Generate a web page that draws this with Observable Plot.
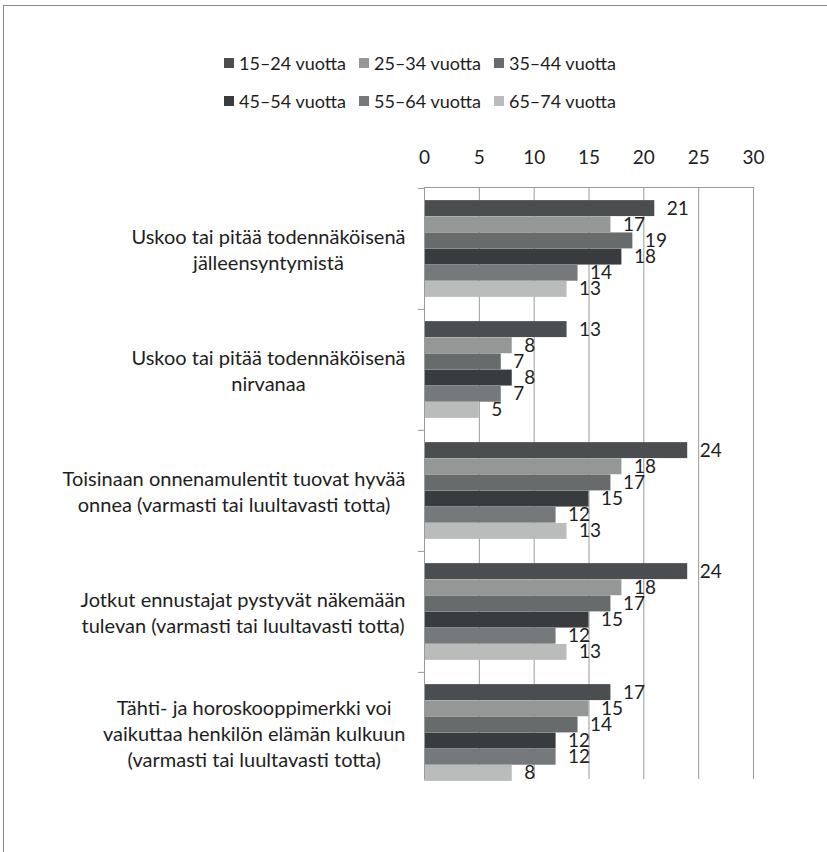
<!DOCTYPE html>
<html><head><meta charset="utf-8">
<script src="https://cdn.jsdelivr.net/npm/d3@7"></script>
<script src="https://cdn.jsdelivr.net/npm/@observablehq/plot@0.6"></script>
<style>
body{margin:0;background:#fff;overflow:hidden;width:827px;height:852px;position:relative;font-family:Lato,"Open Sans",sans-serif;color:#1e1e1e;}
#frame{position:absolute;left:3px;top:5px;width:900px;height:900px;border-left:1px solid #8a8a8a;border-top:1px solid #8a8a8a;}
#legend{position:absolute;left:0;top:44px;width:840px;font-size:18px;}
.row{display:flex;justify-content:center;height:38px;align-items:center;}
.item{display:flex;align-items:center;margin:0 6.5px;}
.sw{width:10px;height:10px;margin-right:5px;}
#chart{position:absolute;left:0;top:120px;}
</style></head>
<body>
<div id="frame"></div>
<div id="legend"></div>
<div id="chart"></div>
<script>
const categories = [
  "Uskoo tai pitää todennäköisenä\njälleensyntymistä",
  "Uskoo tai pitää todennäköisenä\nnirvanaa",
  "Toisinaan onnenamulentit tuovat hyvää\nonnea (varmasti tai luultavasti totta)",
  "Jotkut ennustajat pystyvät näkemään\ntulevan (varmasti tai luultavasti totta)",
  "Tähti- ja horoskooppimerkki voi\nvaikuttaa henkilön elämän kulkuun\n(varmasti tai luultavasti totta)"
];
const ageGroups = ["15–24 vuotta","25–34 vuotta","35–44 vuotta","45–54 vuotta","55–64 vuotta","65–74 vuotta"];
const v15_24 = [21,13,24,24,17];
const v25_34 = [17,8,18,18,15];
const v35_44 = [19,7,17,17,14];
const v45_54 = [18,8,15,15,12];
const v55_64 = [14,7,12,12,12];
const v65_74 = [13,5,13,13,8];
const xTicks = [0,5,10,15,20,25,30];
const colors = ["#4b4e51","#959796","#686b6b","#383c3f","#76797b","#b9bcbb"];

const series = [v15_24,v25_34,v35_44,v45_54,v55_64,v65_74];

// legend
const legend = document.getElementById("legend");
[[0,1,2],[3,4,5]].forEach(idx => {
  const row = document.createElement("div"); row.className = "row";
  idx.forEach(i => {
    const it = document.createElement("div"); it.className = "item";
    const sw = document.createElement("div"); sw.className = "sw"; sw.style.background = colors[i];
    const tx = document.createElement("span"); tx.textContent = ageGroups[i];
    it.append(sw, tx); row.append(it);
  });
  legend.append(row);
});

const top0 = 67;
const bw = 121.2;
const h = bw / 7.5;
const pad = (bw - 6 * h) / 2;

const marks = [
  Plot.gridX({ticks: xTicks, stroke: "#9a9a9a", strokeOpacity: 1}),
];
series.forEach((vals, i) => {
  const rows = categories.map((c, j) => ({category: c, value: vals[j]}));
  marks.push(Plot.barX(rows, {
    x: "value", y: "category", fill: colors[i],
    insetTop: pad + i * h, insetBottom: bw - pad - (i + 1) * h
  }));
  marks.push(Plot.text(rows, {
    x: "value", y: "category", text: d => String(d.value),
    dx: 12, dy: pad + (i + 0.5) * h - bw / 2, textAnchor: "start",
    fill: "#1e1e1e", fontSize: 19
  }));
});
marks.push(
  Plot.ruleX([0], {stroke: "#9a9a9a"}),
  Plot.frame({anchor: "top", stroke: "#9a9a9a"}),
  Plot.axisY({tickSize: 6, text: null, dy: -bw / 2, stroke: "#9a9a9a", label: null}),
  Plot.axisY({tickSize: 0, tickPadding: 19, fontSize: 20, lineHeight: 1.3, fill: "#1e1e1e", label: null}),
  Plot.axisX({anchor: "top", ticks: xTicks, tickSize: 0, tickPadding: 24, fontSize: 19, fill: "#1e1e1e", label: null})
);

const svg = Plot.plot({
  width: 827,
  height: 679,
  marginTop: top0,
  marginLeft: 424,
  marginRight: 74,
  marginBottom: 20,
  style: {fontFamily: "Lato, 'Open Sans', sans-serif", fontSize: "18px", color: "#1e1e1e", background: "transparent"},
  x: {domain: [0, 30], axis: null},
  y: {domain: categories, range: [top0, top0 + 5 * bw], padding: 0, axis: null},
  marks
});
document.getElementById("chart").append(svg);
svg.querySelectorAll('g[aria-label="y-axis tick label"] text').forEach(t => {
  const b = t.getBBox();
  t.setAttribute("text-anchor", "middle");
  t.setAttribute("transform", (t.getAttribute("transform") || "") + ` translate(${-b.width / 2},0)`);
});
</script>
</body></html>
